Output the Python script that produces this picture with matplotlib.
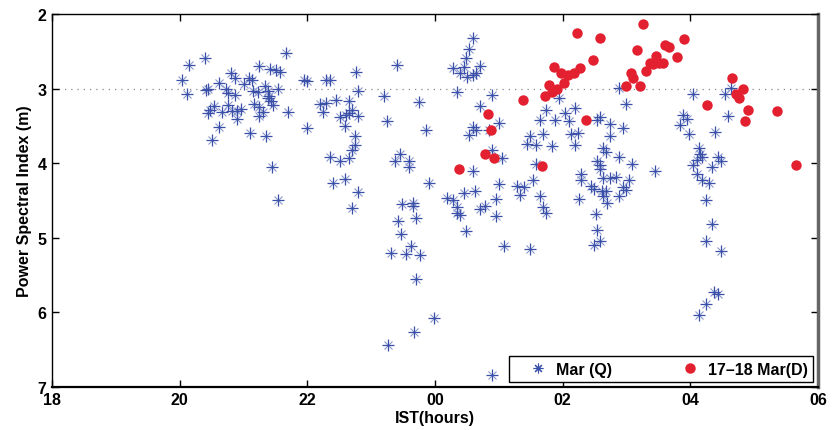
import numpy as np
from matplotlib import pyplot as plt

# Quiet days of March (asterisks): IST in hours (after midnight = 24+), spectral index
quiet_ist = [
    20.15, 20.40, 20.04, 20.11, 21.67, 21.25, 21.41, 21.51, 21.57, 20.81,
    20.86, 20.62, 20.44, 20.42, 20.72, 20.75, 20.87, 21.08, 21.13, 21.01,
    21.15, 21.22, 21.33, 21.39, 21.54, 21.38, 21.43, 21.47, 21.40, 21.17,
    21.25, 21.30, 21.25, 20.54, 20.47, 20.45, 20.67, 20.76, 20.82, 20.90,
    20.96, 20.90, 20.61, 20.50, 21.11, 21.35, 21.70, 21.45, 21.54, 21.95,
    22.00, 22.29, 22.35, 22.20, 22.29, 22.25, 22.45, 22.52, 21.99, 22.36,
    22.52, 22.40,
    22.76, 22.79, 22.65, 22.70, 22.65, 22.60, 22.79, 22.59, 22.75, 22.75,
    22.70, 22.65, 22.59, 22.79, 22.70, 23.40, 23.20, 23.75, 23.25, 23.86,
    23.45, 23.37, 23.60, 23.60, 23.91, 23.49, 23.65, 23.65, 23.42, 23.71,
    23.47, 23.62, 23.55, 23.31, 23.76, 23.71, 23.99, 23.67, 23.26, 24.90,
    24.59, 24.54, 24.49, 24.70, 24.45, 24.29, 24.40, 24.50, 24.60, 24.64,
    24.34, 24.90, 24.70, 25.00, 24.60, 24.64, 24.54, 24.84, 24.90, 25.05,
    24.59, 25.00, 24.63, 24.45, 24.19, 24.29, 24.35, 24.34, 24.40, 24.95,
    24.79, 24.70, 24.95, 24.49, 25.09, 25.49, 25.34, 25.64, 25.70, 25.74,
    26.89, 26.99, 25.95, 25.74, 25.64, 25.88, 26.04, 26.10, 26.20, 25.49,
    25.69, 25.44, 25.59, 25.84, 26.13, 26.24, 26.20, 26.54, 26.59, 26.74,
    26.74, 26.94, 25.59, 26.64, 26.68, 26.54, 26.58, 26.59, 26.89, 27.09,
    27.45, 25.54, 25.28, 25.40, 26.29, 26.29, 26.25, 26.44, 26.49, 26.63,
    26.74, 26.84, 27.04, 26.61, 26.68, 26.64, 26.69, 26.89, 26.95, 26.99,
    26.53, 26.54, 26.59, 26.50,
    28.04, 28.54, 28.64, 27.89, 27.95, 27.84, 27.98, 28.59, 28.39, 28.14,
    28.15, 28.19, 28.10, 28.04, 28.34, 28.43, 28.49, 28.10, 28.19, 28.29,
    28.25, 28.34, 28.24, 28.48, 28.38, 28.43, 28.24, 28.14,
]
quiet_psi = [
    2.68, 2.59, 2.88, 3.07, 2.52, 2.70, 2.74, 2.75, 2.78, 2.79,
    2.86, 2.92, 3.00, 3.02, 3.01, 3.06, 3.08, 2.86, 2.89, 2.94,
    3.03, 3.04, 2.97, 3.03, 3.01, 3.13, 3.17, 3.22, 3.10, 3.20,
    3.25, 3.31, 3.37, 3.23, 3.29, 3.32, 3.31, 3.22, 3.30, 3.30,
    3.27, 3.41, 3.52, 3.69, 3.60, 3.64, 3.31, 4.05, 4.49, 2.88,
    2.90, 2.88, 2.89, 3.21, 3.19, 3.31, 3.15, 3.38, 3.53, 3.91,
    3.97, 4.26,
    2.78, 3.03, 3.17, 3.29, 3.33, 3.35, 3.37, 3.50, 3.64, 3.75,
    3.82, 3.93, 4.21, 4.39, 4.60, 2.68, 3.10, 3.18, 3.44, 3.55,
    3.88, 3.97, 3.97, 4.05, 4.26, 4.55, 4.53, 4.57, 4.77, 4.74,
    4.95, 5.11, 5.22, 5.21, 5.23, 5.55, 6.08, 6.27, 6.44, 6.84,
    2.32, 2.47, 2.59, 2.70, 2.71, 2.72, 2.79, 2.84, 2.82, 2.79,
    3.04, 3.08, 3.23, 3.46, 3.51, 3.55, 3.62, 3.56, 3.82, 3.93,
    4.11, 4.28, 4.37, 4.40, 4.47, 4.50, 4.59, 4.67, 4.70, 4.48,
    4.58, 4.62, 4.71, 4.91, 5.11, 5.15, 4.43, 4.44, 4.59, 4.67,
    2.99, 3.21, 3.12, 3.28, 3.42, 3.42, 3.33, 3.43, 3.26, 3.64,
    3.61, 3.74, 3.76, 3.77, 3.61, 3.60, 3.76, 3.42, 3.38, 3.47,
    3.63, 3.53, 4.01, 3.79, 3.85, 3.97, 4.03, 4.08, 3.92, 4.01,
    4.10, 4.23, 4.30, 4.32, 4.14, 4.23, 4.48, 4.30, 4.34, 4.20,
    4.20, 4.18, 4.22, 4.37, 4.37, 4.44, 4.54, 4.44, 4.32, 4.36,
    4.68, 4.89, 5.04, 5.10,
    3.07, 3.07, 2.99, 3.35, 3.41, 3.49, 3.61, 3.37, 3.58, 3.80,
    3.88, 3.92, 3.96, 4.02, 4.05, 3.92, 3.97, 4.14, 4.23, 4.26,
    4.49, 4.81, 5.04, 5.18, 5.73, 5.76, 5.89, 6.03,
]

# Disturbed night 17-18 March (filled circles)
storm_ist = [
    24.38, 24.83, 24.88, 24.78, 24.93, 25.38, 25.73, 25.78, 25.83, 25.92,
    26.03, 25.87, 25.98, 26.08, 26.18, 26.27, 26.22, 26.58, 26.48, 26.37,
    25.67, 27.26, 27.16, 27.61, 27.66, 27.07, 27.11, 27.00, 27.21, 27.31,
    27.37, 27.47, 27.42, 27.51, 27.57, 27.91, 27.80, 28.66, 28.82, 28.71,
    28.76, 28.26, 28.90, 28.86, 29.36, 29.66,
]
storm_psi = [
    4.08, 3.34, 3.55, 3.87, 3.93, 3.15, 3.10, 2.95, 3.05, 3.01,
    2.93, 2.71, 2.79, 2.82, 2.79, 2.72, 2.26, 2.32, 2.62, 3.42,
    4.04, 2.13, 2.48, 2.41, 2.44, 2.79, 2.86, 2.97, 2.96, 2.77,
    2.65, 2.56, 2.67, 2.66, 2.65, 2.33, 2.58, 2.86, 3.01, 3.07,
    3.13, 3.22, 3.28, 3.44, 3.30, 4.02,
]

xticks = [18, 20, 22, 24, 26, 28, 30]
xtick_labels = ['18', '20', '22', '00', '02', '04', '06']
yticks = [2, 3, 4, 5, 6, 7]

plt.rcParams['font.family'] = ['Liberation Sans', 'DejaVu Sans']
plt.rcParams['font.weight'] = 'bold'

fig = plt.figure(figsize=(8.32, 4.31), dpi=100)
ax = fig.add_axes([0.0625, 0.10, 0.9205, 0.865])

# reference level
ax.axhline(3, color='#888888', linestyle=(0, (1, 4)), linewidth=0.9, zorder=1)

blue = '#3a4fa8'
# matlab-like asterisk: solid plus with a lighter cross on top
ax.plot(quiet_ist, quiet_psi, linestyle='none', marker='x', markersize=5.5,
        markeredgewidth=0.8, color='#8a97cc', zorder=2)
ax.plot(quiet_ist, quiet_psi, linestyle='none', marker='+', markersize=8,
        markeredgewidth=0.9, color=blue, zorder=2)
# legend proxy
ax.plot([], [], linestyle='none', marker=(8, 2, 0), markersize=7,
        markeredgewidth=0.8, color=blue, label='Mar (Q)')
ax.plot(storm_ist, storm_psi, linestyle='none', marker='o', markersize=7.5,
        color='#e3202f', markeredgewidth=0, label='17\u201318 Mar(D)', zorder=3)

ax.set_xlim(18, 30)
ax.set_ylim(7, 2)
ax.set_xticks(xticks)
ax.set_xticklabels(xtick_labels)
ax.set_yticks(yticks)
ax.tick_params(direction='in', length=5, width=1, labelsize=11.5,
               top=True, right=True, pad=4)
for lab in ax.get_xticklabels() + ax.get_yticklabels():
    lab.set_fontweight('bold')

for side in ['top', 'left']:
    ax.spines[side].set_linewidth(1.0)
ax.spines['bottom'].set_linewidth(1.6)
ax.spines['right'].set_color('#666666')
ax.spines['right'].set_linewidth(2.5)

ax.set_xlabel('IST(hours)', fontsize=11.5, fontweight='bold', labelpad=2)
ax.set_ylabel('Power Spectral Index (m)', fontsize=11.5, fontweight='bold', labelpad=4)

leg = ax.legend(loc='lower right', ncol=2, fancybox=False, edgecolor='black',
                framealpha=1, fontsize=11.5, borderaxespad=0.3,
                handlelength=3, handletextpad=-0.4, columnspacing=3.4,
                borderpad=0.35)
leg.get_frame().set_linewidth(1.0)
for t in leg.get_texts():
    t.set_fontweight('bold')

plt.savefig('out.png', dpi=100)
